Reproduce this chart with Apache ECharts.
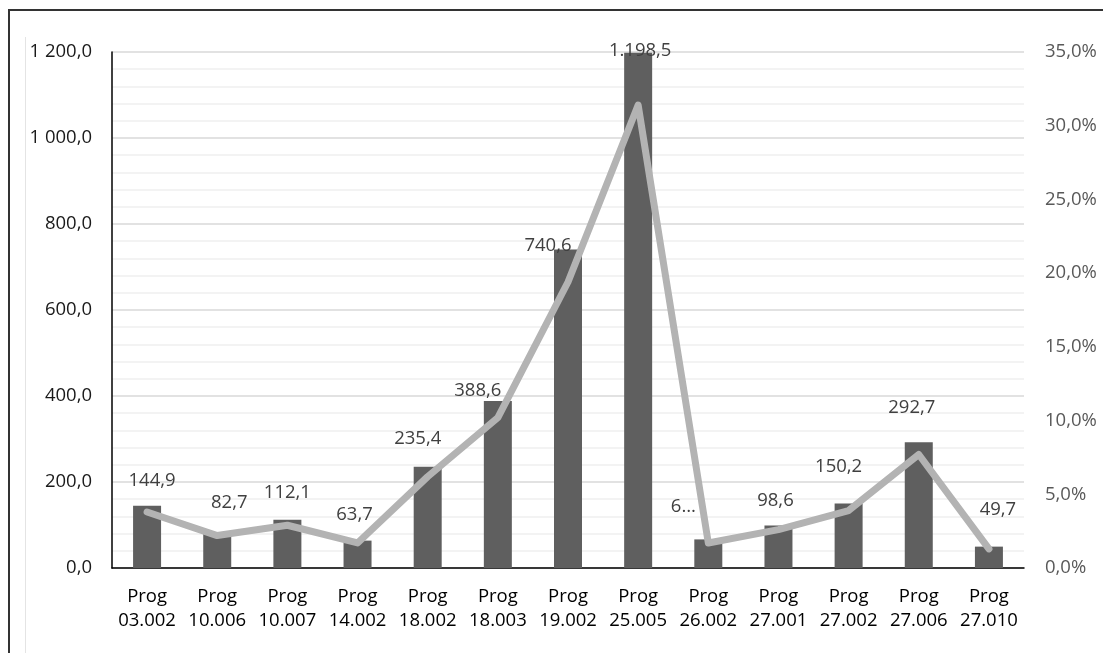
<!DOCTYPE html>
<html lang="en">

<head>
  <meta charset="utf-8">
  <title>Prog chart</title>
  <script src="https://cdn.jsdelivr.net/npm/echarts@6/dist/echarts.min.js"></script>
  <style>
    body {
      margin: 0;
      background: #ffffff;
    }

    .frame-top {
      position: absolute;
      left: 8px;
      top: 9px;
      width: 1095px;
      height: 2px;
      background: #333333;
    }

    .frame-left {
      position: absolute;
      left: 8px;
      top: 9px;
      width: 2px;
      height: 644px;
      background: #333333;
    }

    .inner-left {
      position: absolute;
      left: 25px;
      top: 37px;
      width: 1px;
      height: 616px;
      background: #e4e4e4;
    }

    .box {
      position: absolute;
      left: 0;
      top: 0;
      width: 1103px;
      height: 653px;
    }
  </style>
</head>

<body>
  <div class="frame-top"></div>
  <div class="frame-left"></div>
  <div class="inner-left"></div>
  <div class="box"></div>

  <script>
    // categories and values
    var categories = ['Prog\n03.002', 'Prog\n10.006', 'Prog\n10.007', 'Prog\n14.002', 'Prog\n18.002',
      'Prog\n18.003', 'Prog\n19.002', 'Prog\n25.005', 'Prog\n26.002', 'Prog\n27.001',
      'Prog\n27.002', 'Prog\n27.006', 'Prog\n27.010'];
    var barValues = [144.9, 82.7, 112.1, 63.7, 235.4, 388.6, 740.6, 1198.5, 66.5, 98.6, 150.2, 292.7, 49.7];
    var barLabels = ['144,9', '82,7', '112,1', '63,7', '235,4', '388,6', '740,6', '1.198,5', '6…',
      '98,6', '150,2', '292,7', '49,7'];
    // share in %
    var shareValues = [3.8, 2.2, 2.9, 1.7, 6.2, 10.2, 19.4, 31.4, 1.7, 2.6, 3.9, 7.7, 1.3];

    // label nudges [dx, dy] (Excel placed them around the line)
    var labelNudge = [[5, -15], [12, -20], [0, -18], [-3, -16], [-10, -19], [-20, -1], [-20, 6],
      [2, 8], [-25, -23], [-3, -15], [-10, -27], [-7, -25], [9, -27]];

    var fontName = '"Open Sans", "Noto Sans", sans-serif';

    function leftFmt(v) {
      var s = v.toFixed(1).split('.');
      var intPart = s[0].replace(/\B(?=(\d{3})+(?!\d))/g, ' ');
      return intPart + ',' + s[1];
    }

    var barData = barValues.map(function (v, i) {
      return {
        value: v,
        label: { offset: labelNudge[i] }
      };
    });

    var myChart = echarts.init(document.querySelector('.box'));

    var option = {
      animation: false,
      grid: { left: 112, right: 79, top: 52, bottom: 85 },
      xAxis: {
        type: 'category',
        data: categories,
        axisTick: { show: false },
        axisLine: { lineStyle: { color: '#000000', width: 1.5 } },
        axisLabel: {
          interval: 0,
          color: '#000000',
          fontFamily: fontName,
          fontSize: 18.5,
          lineHeight: 23.5,
          margin: 17
        }
      },
      yAxis: [{
        type: 'value',
        min: 0,
        max: 1200,
        interval: 200,
        axisLine: { show: true, lineStyle: { color: '#000000', width: 1.5 } },
        axisTick: { show: false },
        axisLabel: {
          color: '#1a1a1a',
          fontFamily: fontName,
          fontSize: 18.5,
          margin: 20,
          formatter: leftFmt
        },
        splitLine: { lineStyle: { color: '#d9d9d9', width: 1.5 } },
        minorTick: { show: false, splitNumber: 5 },
        minorSplitLine: { show: true, lineStyle: { color: '#f0f0f0', width: 1.5 } }
      }, {
        type: 'value',
        min: 0,
        max: 35,
        interval: 5,
        position: 'right',
        axisLine: { show: false },
        axisTick: { show: false },
        splitLine: { show: false },
        axisLabel: {
          color: '#595959',
          fontFamily: fontName,
          fontSize: 18.5,
          margin: 21,
          formatter: function (v) { return v.toFixed(1).replace('.', ',') + '%'; }
        }
      }],
      series: [{
        type: 'bar',
        data: barData,
        barWidth: 28,
        itemStyle: { color: '#5f5f5f' },
        label: {
          show: true,
          position: 'top',
          distance: 0,
          color: '#404040',
          fontFamily: fontName,
          fontSize: 18.5,
          formatter: function (p) { return barLabels[p.dataIndex]; }
        },
        z: 2
      }, {
        type: 'line',
        yAxisIndex: 1,
        data: shareValues,
        symbol: 'none',
        lineStyle: { color: '#b3b3b3', width: 7, cap: 'round', join: 'round' },
        z: 3
      }]
    };
    myChart.setOption(option);
  </script>

</body>

</html>
